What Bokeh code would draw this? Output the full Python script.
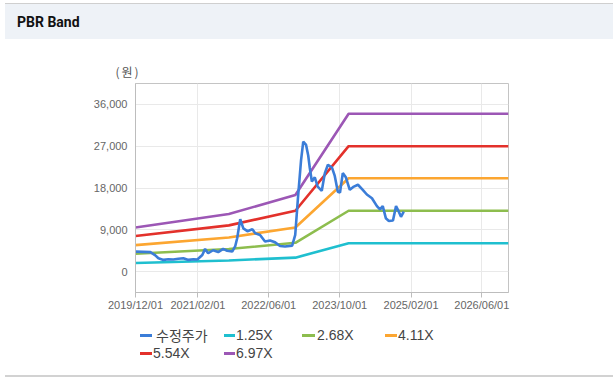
import pandas as pd
from bokeh.plotting import figure
from bokeh.layouts import column
from bokeh.models import (Range1d, FixedTicker, DatetimeTickFormatter,
                          NumeralTickFormatter, Div)
from bokeh.embed import file_html
from bokeh.resources import INLINE

# ---------------- data ----------------
band_dates = ["2019-12-01", "2021-09-01", "2022-12-01", "2023-12-01", "2026-12-01"]
band_125 = [1850, 2400, 3000, 6100, 6100]
band_268 = [3850, 4850, 6200, 13100, 13100]
band_411 = [5700, 7350, 9500, 20100, 20100]
band_554 = [7650, 9950, 13100, 27000, 27000]
band_697 = [9500, 12400, 16500, 34000, 34000]

price_dates = [
    "2019-12-01", "2020-03-12", "2020-04-15", "2020-05-06", "2020-06-10", "2020-07-13",
    "2020-08-16", "2020-09-20", "2020-10-24", "2020-11-28", "2021-01-01", "2021-01-28",
    "2021-03-03", "2021-03-22", "2021-04-12", "2021-05-16", "2021-06-20", "2021-07-24",
    "2021-08-20", "2021-09-24", "2021-10-15", "2021-10-28", "2021-11-18", "2021-12-09",
    "2022-01-06", "2022-02-09", "2022-03-01", "2022-04-03", "2022-05-07", "2022-06-10",
    "2022-07-15", "2022-08-18", "2022-09-21", "2022-11-09", "2022-11-30", "2022-12-19",
    "2023-01-09", "2023-01-24", "2023-02-12", "2023-02-27", "2023-03-10", "2023-03-24",
    "2023-04-13", "2023-05-03", "2023-05-31", "2023-06-21", "2023-07-12", "2023-08-09",
    "2023-08-28", "2023-09-18", "2023-10-03", "2023-10-22", "2023-11-12", "2023-12-09",
    "2024-01-06", "2024-02-03", "2024-03-07", "2024-04-04", "2024-05-09", "2024-06-12",
    "2024-07-03", "2024-07-22", "2024-08-12", "2024-09-02", "2024-09-30", "2024-10-21",
    "2024-11-03", "2024-11-24", "2024-12-13",
]
price_values = [
    4300, 4200, 3500, 2870, 2520, 2650,
    2600, 2750, 2870, 2520, 2650, 2600,
    3590, 4890, 3950, 4600, 4200, 4890,
    4500, 4310, 5500, 7190, 11300, 9300,
    8700, 9100, 8260, 7900, 6470, 6700,
    6300, 5500, 5400, 5600, 7900, 16000,
    24000, 28000, 27300, 25000, 22300, 19400,
    20300, 18300, 17400, 21200, 23000, 22400,
    20600, 17200, 17000, 21200, 20300, 17600,
    18300, 18700, 17600, 16600, 15800, 14100,
    13400, 14100, 11500, 10900, 11000, 14100,
    13300, 11800, 12900,
]

x_tick_dates = ["2019-12-01", "2021-02-01", "2022-06-01", "2023-10-01", "2025-02-01", "2026-06-01"]
y_ticks = [0, 9000, 18000, 27000, 36000]

series_names = ["수정주가", "1.25X", "2.68X", "4.11X", "5.54X", "6.97X"]
colors = ["#3b7dd8", "#1fbfcf", "#8dbd4e", "#fca631", "#e3312b", "#9c57b5"]

# ---------------- layout constants ----------------
W = 615
HEAD_H, FIG_H, LEG_H = 80, 235, 71
FL, FR = 135, 508          # frame left/right (px)
FT, FB = 3, 212            # frame top/bottom inside the figure (px)


def ms(d):
    return pd.Timestamp(d).value // 10**6


# ---------------- header ----------------
header_html = (
    f'<div style="position:relative;width:{W}px;height:{HEAD_H}px;overflow:hidden;">'
    '<div style="position:absolute;left:5px;top:3px;width:608px;height:1px;background:#cfcfcf;"></div>'
    '<div style="position:absolute;left:5px;top:4px;width:608px;height:35px;background:#eef2f7;"></div>'
    '<div style="position:absolute;left:17px;top:13px;font-family:Roboto;font-weight:bold;'
    'font-size:14px;line-height:18px;color:#111111;white-space:nowrap;">PBR Band</div>'
    '<div style="position:absolute;left:106px;top:64px;width:44px;text-align:center;'
    "font-family:'Noto Sans CJK KR';font-size:12px;line-height:16px;color:#555555;"
    'letter-spacing:2px;white-space:nowrap;">(원)</div>'
    '</div>'
)
header = Div(text=header_html, width=W, height=HEAD_H, margin=0)

# ---------------- chart ----------------
p = figure(width=W, height=FIG_H, x_axis_type="datetime", output_backend="svg",
           toolbar_location=None,
           x_range=Range1d(ms("2019-12-01"), ms("2026-12-01")),
           y_range=Range1d(-4500, 40500),
           min_border_left=FL, min_border_right=W - FR,
           min_border_top=FT, min_border_bottom=FIG_H - FB)
p.background_fill_color = "white"
p.border_fill_color = "white"
p.outline_line_color = "#c4c4c4"

p.xaxis.ticker = FixedTicker(ticks=[ms(d) for d in x_tick_dates])
fmt = "%Y/%m/%d"
p.xaxis.formatter = DatetimeTickFormatter(milliseconds=fmt, seconds=fmt, minsec=fmt,
                                          minutes=fmt, hourmin=fmt, hours=fmt, days=fmt,
                                          months=fmt, years=fmt)
p.yaxis.ticker = FixedTicker(ticks=y_ticks)
p.yaxis.formatter = NumeralTickFormatter(format="0,0")
for ax in (p.xaxis[0], p.yaxis[0]):
    ax.axis_line_color = "#bdbdbd"
    ax.major_tick_line_color = "#bdbdbd"
    ax.minor_tick_line_color = None
    ax.major_label_text_font = "Liberation Sans"
    ax.major_label_text_font_size = "11px"
    ax.major_label_text_color = "#666666"
p.xaxis.major_tick_out = 5
p.xaxis.major_tick_in = 0
p.xaxis.major_label_standoff = 1
p.yaxis.major_tick_out = 0
p.yaxis.major_tick_in = 0
p.yaxis.major_label_standoff = 8
p.grid.grid_line_color = "#e9e9e9"

bx = [pd.Timestamp(d) for d in band_dates]
bands = [band_125, band_268, band_411, band_554, band_697]
for vals, c in zip(bands, colors[1:]):
    p.line(bx, vals, line_color=c, line_width=2.6)

p.line([pd.Timestamp(d) for d in price_dates], price_values,
       line_color=colors[0], line_width=2.6)

# ---------------- legend ----------------
# (marker x0, marker x1, text x, row center y) in px within the legend block
leg_pos = [(140, 152, 156, 20), (224, 235, 236, 20), (302, 315, 317, 20),
           (385, 397, 398, 20), (140, 152, 153, 38), (224, 235, 236, 38)]
parts = [f'<div style="position:relative;width:{W}px;height:{LEG_H}px;overflow:hidden;">']
for (x0, x1, tx, cy), name, c in zip(leg_pos, series_names, colors):
    parts.append(f'<div style="position:absolute;left:{x0}px;top:{cy - 1.5}px;width:{x1 - x0}px;'
                 f'height:3px;background:{c};"></div>')
    font = "'Noto Sans CJK KR'" if name == "수정주가" else "'Liberation Sans'"
    parts.append(f'<div style="position:absolute;left:{tx}px;top:{cy - 9}px;font-family:{font};'
                 f'font-size:14px;line-height:18px;color:#444444;white-space:nowrap;">{name}</div>')
parts.append('<div style="position:absolute;left:5px;top:60px;width:608px;height:1.5px;'
             'background:#d2d2d2;"></div>')
parts.append('</div>')
legend = Div(text="".join(parts), width=W, height=LEG_H, margin=0)

layout = column(header, p, legend, spacing=0)

open("out.html", "w").write(file_html(layout, INLINE))
